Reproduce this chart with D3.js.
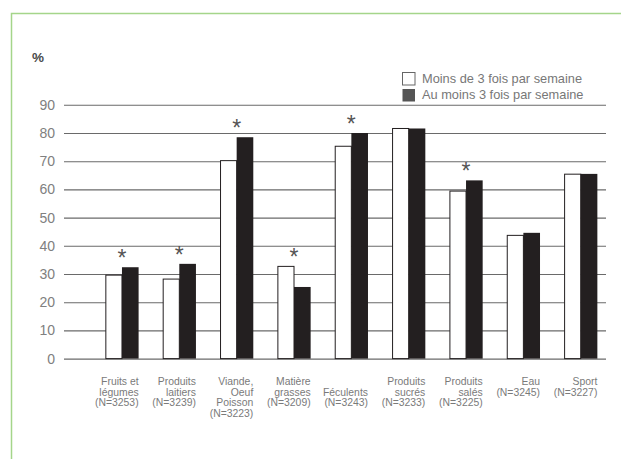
<!DOCTYPE html>
<html>
<head>
<meta charset="utf-8">
<script src="https://cdn.jsdelivr.net/npm/d3@7"></script>
<style>
  html, body { margin: 0; padding: 0; background: #fff; }
  svg { display: block; }
  text { font-family: "Liberation Sans", Arial, Helvetica, sans-serif; }
</style>
</head>
<body>
<div id="chart"></div>
<script>
// ---- data ----
const categories = ["Fruits et légumes", "Produits laitiers", "Viande, Oeuf Poisson", "Matière grasses",
  "Féculents", "Produits sucrés", "Produits salés", "Eau", "Sport"];
const labelLines = [
  ["Fruits et", "légumes", "(N=3253)"],
  ["Produits", "laitiers", "(N=3239)"],
  ["Viande,", "Oeuf", "Poisson", "(N=3223)"],
  ["Matière", "grasses", "(N=3209)"],
  ["", "Féculents", "(N=3243)"],
  ["Produits", "sucrés", "(N=3233)"],
  ["Produits", "salés", "(N=3225)"],
  ["Eau", "(N=3245)"],
  ["Sport", "(N=3227)"]
];
const seriesNames = ["Moins de 3 fois par semaine", "Au moins 3 fois par semaine"];
const lessThan3 = [29.6, 28.2, 70.2, 32.7, 75.3, 81.6, 59.4, 43.7, 65.4];
const atLeast3  = [32.4, 33.6, 78.5, 25.4, 80.0, 81.6, 63.2, 44.6, 65.5];
const significant = [true, true, true, true, true, false, true, false, false];
const yTicks = [0, 10, 20, 30, 40, 50, 60, 70, 80, 90];
const yUnit = "%";

// ---- layout ----
const W = 621, H = 459;
const svg = d3.select("#chart").append("svg").attr("width", W).attr("height", H);

// green frame
svg.append("rect")
  .attr("x", 11.5).attr("y", 13.5)
  .attr("width", W + 20).attr("height", H + 20)
  .attr("fill", "none").attr("stroke", "#a5d58a").attr("stroke-width", 1.5);

const y = d3.scaleLinear().domain([0, 90]).range([358.6, 104.8]);
const x = d3.scaleBand().domain(categories).range([93.3, 609.4]).paddingInner(0.42).paddingOuter(0.21);
const xs = d3.scaleBand().domain([0, 1]).range([0, x.bandwidth()]);

// y-axis (gridlines + labels)
const yAxis = d3.axisLeft(y).tickValues(yTicks).tickSize(-(606 - 64)).tickPadding(9).tickFormat(d3.format("d"));
const gy = svg.append("g").attr("transform", "translate(64,0)").call(yAxis);
gy.select(".domain").remove();
gy.selectAll(".tick line").attr("stroke", "#6a6a6a").attr("stroke-width", 1.1);
gy.selectAll(".tick text").attr("fill", "#808080").attr("font-size", 14).attr("x", -9);

// unit label
svg.append("text").attr("x", 32).attr("y", 62).attr("fill", "#4a4a4a")
  .attr("font-size", 13.5).attr("font-weight", "bold").text(yUnit);

// bars
const groups = svg.append("g").selectAll("g").data(categories).join("g")
  .attr("transform", d => `translate(${x(d)},0)`);

groups.append("rect")
  .attr("x", (d, i) => xs(0) + 0.5)
  .attr("y", (d, i) => y(lessThan3[i]))
  .attr("width", xs.bandwidth() - 0.5)
  .attr("height", (d, i) => y(0) - y(lessThan3[i]))
  .attr("fill", "#fff").attr("stroke", "#231f20").attr("stroke-width", 1);

groups.append("rect")
  .attr("x", (d, i) => xs(1))
  .attr("y", (d, i) => y(atLeast3[i]))
  .attr("width", xs.bandwidth())
  .attr("height", (d, i) => y(0) - y(atLeast3[i]))
  .attr("fill", "#231f20");

// significance asterisks
groups.filter((d, i) => significant[i]).append("text")
  .attr("x", x.bandwidth() / 2)
  .attr("y", d => { const i = categories.indexOf(d); return y(Math.max(lessThan3[i], atLeast3[i])) - 1; })
  .attr("text-anchor", "middle").attr("fill", "#555").attr("font-size", 23)
  .text("*");

// x labels
groups.each(function(d, i) {
  const t = d3.select(this).append("text")
    .attr("text-anchor", "end").attr("fill", "#7a7a7a").attr("font-size", 10.4);
  labelLines[i].forEach((line, k) => {
    t.append("tspan").attr("x", x.bandwidth()).attr("y", 385 + k * 10.6).text(line);
  });
});

// legend
const legend = svg.append("g");
const colors = ["#fff", "#555"];
seriesNames.forEach((name, i) => {
  legend.append("rect")
    .attr("x", 402.5).attr("y", 72.5 + i * 16.5)
    .attr("width", 12.5).attr("height", 12.5)
    .attr("fill", colors[i]).attr("stroke", i === 0 ? "#666" : "none").attr("stroke-width", 1);
  legend.append("text")
    .attr("x", 422).attr("y", 83 + i * 16)
    .attr("fill", "#777").attr("font-size", 12.8).text(name);
});
</script>
</body>
</html>
